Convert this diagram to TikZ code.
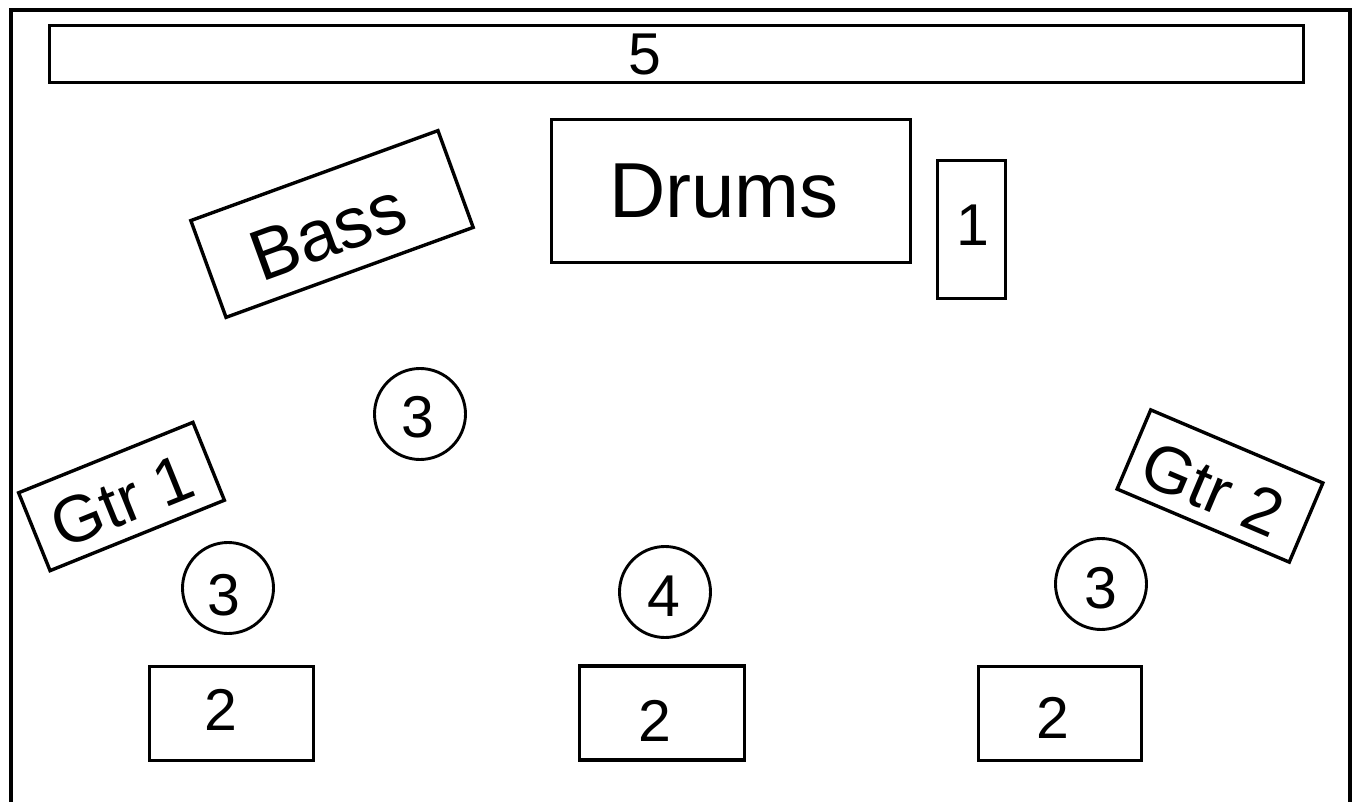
\documentclass[tikz,border=0pt]{standalone}
\usepackage{fontspec}
\setmainfont{Liberation Sans}
\begin{document}
\begin{tikzpicture}[x=1pt,y=-1pt,
  box/.style={draw, line width=3.4pt, inner sep=0pt, outer sep=0pt},
  spot/.style={draw, circle, line width=2.9pt, minimum size=91pt, inner sep=0pt},
  lbl/.style={inner sep=0pt, font=\fontsize{59}{59}\selectfont},
  big/.style={inner sep=0pt, font=\fontsize{#1}{#1}\selectfont}]
\useasboundingbox (0,0) rectangle (1358,802);
\begin{scope}
\clip (0,0) rectangle (1358,802);
\draw[line width=4pt] (11,10) rectangle (1350,840);
\end{scope}
% top bar
\node[box, minimum width=1254pt, minimum height=57pt] (bar) at (676.5,54) {};
\node[lbl] (t5) at (645,54) {5};
% drums
\node[box, minimum width=359pt, minimum height=143pt] (drums) at (731,191) {};
\node[big=78] (tdrums) at (724,191.5) {Drums};
% box 1
\node[box, minimum width=68pt, minimum height=138pt] (one) at (971.5,229.5) {};
\node[lbl] (t1) at (973,225) {1};
% bass
\node[box, rotate=20, minimum width=263pt, minimum height=103pt] (bass) at (332,224) {};
\node[big=72, rotate=20] (tbass) at (328,232) {Bass};
% guitars
\node[box, rotate=22, minimum width=188pt, minimum height=84pt] (gtra) at (121.5,496.5) {};
\node[big=66, rotate=22] (tgtra) at (122,501) {Gtr 1};
\node[box, rotate=-23, minimum width=187pt, minimum height=86pt] (gtrb) at (1220,486) {};
\node[big=66, rotate=-23] (tgtrb) at (1213,489) {Gtr 2};
% circles
\node[spot] (c1) at (228,588) {};
\node[lbl] (tc1) at (224,595) {3};
\node[spot] (c2) at (420,414) {};
\node[lbl] (tc2) at (418,417) {3};
\node[spot] (c3) at (665,592) {};
\node[lbl] (tc3) at (664,596) {4};
\node[spot] (c4) at (1101,584) {};
\node[lbl] (tc4) at (1101,588) {3};
% monitors
\node[box, minimum width=164pt, minimum height=94pt] (m1) at (231.5,713.5) {};
\node[lbl] (tm1) at (221,710) {2};
\node[box, minimum width=165pt, minimum height=94pt] (m2) at (662,713) {};
\node[lbl] (tm2) at (655,721) {2};
\node[box, minimum width=163pt, minimum height=94pt] (m3) at (1060,713.5) {};
\node[lbl] (tm3) at (1053,718) {2};
\end{tikzpicture}
\end{document}
